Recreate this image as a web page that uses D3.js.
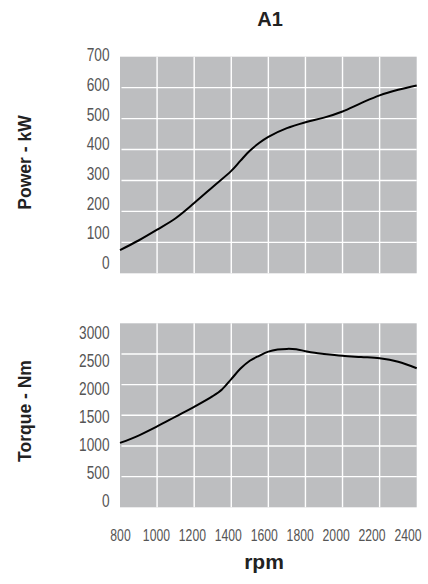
<!DOCTYPE html>
<html>
<head>
<meta charset="utf-8">
<script src="https://cdn.jsdelivr.net/npm/d3@7"></script>
<style>
  html, body { margin: 0; padding: 0; background: #fff; }
  svg { display: block; }
</style>
</head>
<body>
<svg id="chart" width="428" height="584"></svg>
<script>
// ---- data ----
const title = "A1";
const rpm = [800, 900, 1000, 1100, 1200, 1300, 1400, 1450, 1500, 1550, 1600, 1700, 1800, 1900, 2000, 2100, 2200, 2300, 2400];
const powerKW = [75, 106, 141, 178, 227, 279, 331, 364, 396, 421, 441, 469, 488, 503, 523, 550, 575, 593, 607];

const torqueRpm = [800, 900, 1000, 1100, 1200, 1300, 1350, 1400, 1450, 1500, 1550, 1600, 1650, 1700, 1750, 1800, 1850, 1900, 2000, 2100, 2200, 2300, 2400];
const torqueNm = [1050, 1170, 1318, 1478, 1638, 1812, 1922, 2090, 2262, 2390, 2470, 2538, 2572, 2583, 2577, 2545, 2518, 2500, 2470, 2450, 2430, 2374, 2267];

const rpmTicks = [800, 1000, 1200, 1400, 1600, 1800, 2000, 2200, 2400];
const powerTicks = [0, 100, 200, 300, 400, 500, 600, 700];
const torqueTicks = [0, 500, 1000, 1500, 2000, 2500, 3000];

const powerLabel = "Power - kW";
const torqueLabel = "Torque - Nm";
const xLabel = "rpm";

// ---- layout ----
const svg = d3.select("#chart");
const plotL = 120, plotR = 416.7;
const p1 = { top: 56.7, bottom: 273.3 };
const p2 = { top: 323.3, bottom: 507.3 };
const bg = "#bdbec0";
const tickFont = "'Liberation Sans', Arial, sans-serif";
const boldFont = "'Liberation Sans', Arial, sans-serif";

const x = d3.scaleLinear().domain([800, 2400]).range([plotL, plotR]);
const yP = d3.scaleLinear().domain([0, 700]).range([p1.bottom, p1.top]);
const yT = d3.scaleLinear().domain([0, 3000]).range([p2.bottom, p2.top]);

// label scales (labels in the original are slightly compressed vs grid)
const yPLab = d3.scaleLinear().domain([0, 700]).range([262.7, 55]);
const yTLab = d3.scaleLinear().domain([0, 3000]).range([500.7, 332.7]);
const xLab = d3.scaleLinear().domain([800, 2400]).range([120, 407.5]);

function styleTicks(sel, size, sx) {
  sel.selectAll("text")
    .attr("font-family", tickFont)
    .attr("font-size", size)
    .attr("fill", "#555")
    .attr("transform", `scale(${sx},1)`);
}

function panel(y, yTicks, yLab, xs, ys) {
  const g = svg.append("g");
  g.append("rect")
    .attr("x", plotL).attr("y", y.range()[1])
    .attr("width", plotR - plotL).attr("height", y.range()[0] - y.range()[1])
    .attr("fill", bg);
  g.selectAll("line.h").data(yTicks.slice(1, -1)).join("line")
    .attr("x1", plotL + 1.5).attr("x2", plotR)
    .attr("y1", d => y(d)).attr("y2", d => y(d))
    .attr("stroke", "#fff").attr("stroke-width", 1.4);
  g.selectAll("line.v").data(rpmTicks.slice(1, -1)).join("line")
    .attr("x1", d => x(d)).attr("x2", d => x(d))
    .attr("y1", y.range()[1]).attr("y2", y.range()[0])
    .attr("stroke", "#fff").attr("stroke-width", 1.4);
  const ax = g.append("g").attr("transform", "translate(109.5,0)")
    .call(d3.axisLeft(yLab).tickValues(yTicks).tickSize(0).tickPadding(0).tickFormat(d3.format("d")));
  ax.select(".domain").remove();
  styleTicks(ax, 18, 0.76);
  const line = d3.line().x(d => x(d[0])).y(d => y(d[1])).curve(d3.curveCatmullRom.alpha(0.5));
  g.append("path")
    .datum(xs.map((v, i) => [v, ys[i]]))
    .attr("d", line).attr("fill", "none")
    .attr("stroke", "#000").attr("stroke-width", 2);
}

panel(yP, powerTicks, yPLab, rpm, powerKW);
panel(yT, torqueTicks, yTLab, torqueRpm, torqueNm);

const xa = svg.append("g").attr("transform", "translate(0,529)")
  .call(d3.axisBottom(xLab).tickValues(rpmTicks).tickSize(0).tickPadding(0).tickFormat(d3.format("d")));
xa.select(".domain").remove();
styleTicks(xa, 16.5, 0.74);

svg.append("text").attr("x", 270).attr("y", 26)
  .attr("text-anchor", "middle")
  .attr("font-family", boldFont)
  .attr("font-weight", "bold").attr("font-size", 20).attr("fill", "#222")
  .text(title);

svg.append("text").attr("transform", `translate(31,162.5) rotate(-90)`)
  .attr("text-anchor", "middle")
  .attr("font-family", boldFont)
  .attr("font-weight", "bold").attr("font-size", 17.5).attr("fill", "#222")
  .text(powerLabel);
svg.append("text").attr("transform", `translate(31,411) rotate(-90)`)
  .attr("text-anchor", "middle")
  .attr("font-family", boldFont)
  .attr("font-weight", "bold").attr("font-size", 17.5).attr("fill", "#222")
  .text(torqueLabel);
svg.append("text").attr("x", 264).attr("y", 569)
  .attr("text-anchor", "middle")
  .attr("font-family", boldFont)
  .attr("font-weight", "bold").attr("font-size", 21).attr("fill", "#222")
  .text(xLabel);
</script>
</body>
</html>
